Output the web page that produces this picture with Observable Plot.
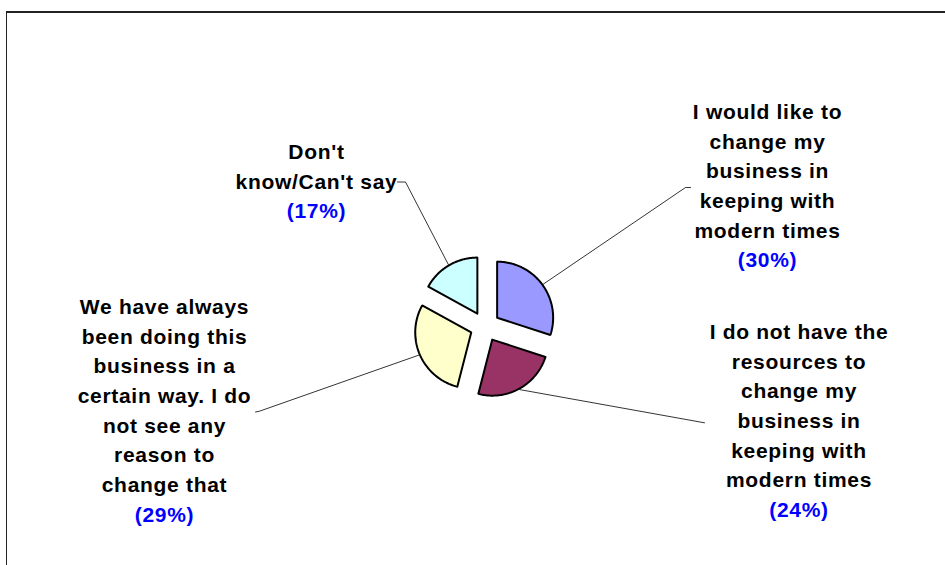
<!DOCTYPE html>
<html>
<head>
<meta charset="utf-8">
<script src="https://cdn.jsdelivr.net/npm/d3@7"></script>
<script src="https://cdn.jsdelivr.net/npm/@observablehq/plot@0.6"></script>
<style>
  html, body { margin: 0; padding: 0; background: #fff; }
  #wrap { position: relative; width: 945px; height: 565px; overflow: hidden; }
  #frame { position: absolute; left: 6px; top: 11px; width: 960px; height: 600px;
           border-top: 2px solid #222; border-left: 1px solid #222; box-sizing: border-box; }
  #chart { position: absolute; left: 0; top: 0; }
</style>
</head>
<body>
<div id="wrap"><div id="frame"></div><div id="chart"></div></div>
<script>
// ---- data ----
const categories = [
  "I would like to change my business in keeping with modern times",
  "I do not have the resources to change my business in keeping with modern times",
  "We have always been doing this business in a certain way. I do not see any reason to change that",
  "Don't know/Can't say"
];
const values = [30, 24, 29, 17];
const colors = ["#9999FF", "#993366", "#FFFFCC", "#CCFFFF"];
const labelLines = [
  ["I would like to", "change my", "business in", "keeping with", "modern times"],
  ["I do not have the", "resources to", "change my", "business in", "keeping with", "modern times"],
  ["We have always", "been doing this", "business in a", "certain way. I do", "not see any", "reason to", "change that"],
  ["Don't", "know/Can't say"]
];

// ---- layout ----
const W = 945, H = 565;
const cx = 484.5, cy = 326, R = 56, EXPLODE = 15;
const lineStep = 29.7;
const labelAnchor = [[767, 111.7], [798.5, 331.7], [164, 306.7], [316, 151.7]];
const leaderEnd = [
  [[685, 187], [690, 187]],
  [[704, 422.3]],
  [[259, 410.7], [255, 411.5]],
  [[405, 181.5], [397, 181.5]]
];

const pie = d3.pie().sort(null).startAngle(0).endAngle(2 * Math.PI)(values);
const pt = (ox, oy, r, a) => [ox + r * Math.sin(a), oy - r * Math.cos(a)];

const marks = [];
pie.forEach((p, i) => {
  const mid = (p.startAngle + p.endAngle) / 2;
  const [ox, oy] = pt(cx, cy, EXPLODE, mid);
  const poly = [[ox, oy]];
  const n = 80;
  for (let k = 0; k <= n; k++) {
    const a = p.startAngle + (p.endAngle - p.startAngle) * k / n;
    poly.push(pt(ox, oy, R, a));
  }
  poly.push([ox, oy]);
  poly.push(poly[1]);
  marks.push(Plot.line(poly, {x: d => d[0], y: d => d[1], fill: colors[i], stroke: "#000",
    strokeWidth: 2, strokeLinejoin: "miter", curve: "linear"}));
  // leader line
  const leader = [pt(ox, oy, R + 1, mid), ...leaderEnd[i]];
  marks.push(Plot.line(leader, {x: d => d[0], y: d => d[1], stroke: "#000", strokeWidth: 0.8}));
});

const textRows = [], pctRows = [];
labelLines.forEach((lines, i) => {
  const [ax, ay] = labelAnchor[i];
  lines.forEach((t, j) => textRows.push({x: ax, y: ay + j * lineStep, t}));
  pctRows.push({x: ax, y: ay + lines.length * lineStep, t: `(${values[i]}%)`});
});

marks.push(Plot.text(textRows, {x: "x", y: "y", text: "t", fill: "#000", fontSize: 21,
  fontWeight: "bold", textAnchor: "middle", lineAnchor: "middle"}));
marks.push(Plot.text(pctRows, {x: "x", y: "y", text: "t", fill: "#0000FF", fontSize: 21,
  fontWeight: "bold", textAnchor: "middle", lineAnchor: "middle"}));

const chart = Plot.plot({
  width: W, height: H, margin: 0,
  x: {domain: [0, W], range: [0, W], axis: null},
  y: {domain: [0, H], range: [0, H], axis: null},
  style: "font-family: 'Liberation Sans', Arial, sans-serif; letter-spacing: 0.7px; background: transparent; overflow: visible;",
  marks
});
document.getElementById("chart").appendChild(chart);
</script>
</body>
</html>
